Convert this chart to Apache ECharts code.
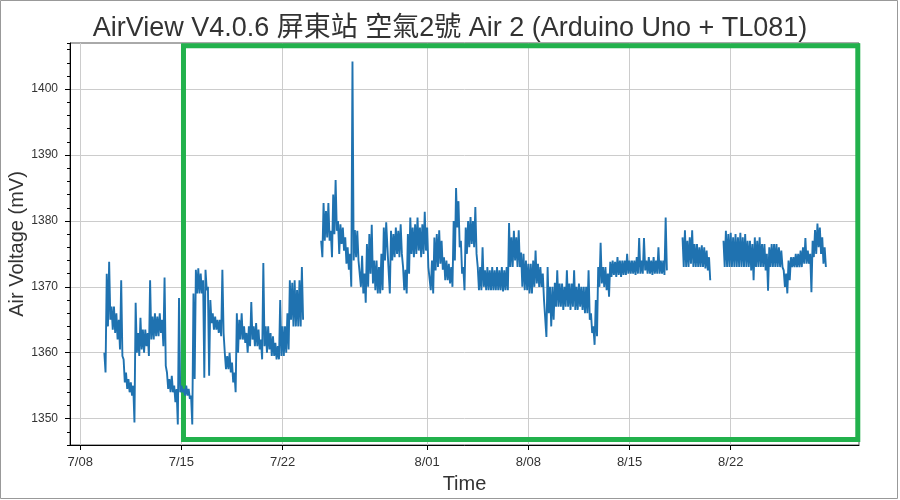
<!DOCTYPE html>
<html><head><meta charset="utf-8">
<script src="https://cdn.jsdelivr.net/npm/echarts@6/dist/echarts.min.js"></script>
<style>html,body{margin:0;padding:0;background:#fff}#c{width:900px;height:500px}</style>
</head><body><div id="c"></div>
<script>
const titleText = 'AirView V4.0.6 屏東站 空氣2號 Air 2 (Arduino Uno + TL081)';
const xAxisName = 'Time';
const yAxisName = 'Air Voltage (mV)';
// samples every 4 h starting at startTime; each sample is read as the band top (hi) and band bottom (lo)
const startTime = '2019-07-09T16:00:00';
const stepHours = 4;
const bandHigh = [
 1360, 1372, 1373.8, 1367, 1367, 1366, 1365, 1371, 1359, 1357,
 1356, 1355.5, 1355, 1367.6, 1363, 1365.3, 1363.5, 1363.5, 1363, 1371,
 1365.5, 1366, 1365.5, 1366, 1365, 1371.4, 1357, 1356, 1356.5, 1355,
 1354.5, 1368.3, 1355, 1354.5, 1355, 1354.5, 1353.5, 1369, 1372.6, 1372.8,
 1372, 1371, 1372.6, 1370, 1368, 1366, 1365.5, 1365, 1365, 1372.6,
 1360, 1359.5, 1360, 1358.5, 1357, 1366, 1365, 1366, 1364, 1363,
 1364, 1367.7, 1364, 1364.5, 1363.5, 1362, 1373.6, 1364, 1364, 1363,
 1362.5, 1361.5, 1361, 1368, 1364, 1364, 1366, 1371, 1370.6, 1371,
 1369.5, 1371, 1373, null, null, null, null, null, null, null,
 1377, 1382.7, 1381.5, 1382.7, 1378.5, 1384, 1386.2, 1380, 1379.5, 1379,
 1377.5, 1376, 1375, 1404.2, 1378.6, 1378.5, 1374, 1374.7, 1372, 1376.5,
 1378, 1379.4, 1374, 1374, 1373, 1375, 1379, 1379.8, 1376, 1378.5,
 1378, 1379, 1378.5, 1379.5, 1373, 1372.6, 1378, 1380.5, 1379, 1379.5,
 1380.5, 1379, 1379.5, 1381.4, 1379, 1373, 1374, 1377.5, 1378, 1378.6,
 1377, 1374.5, 1374, 1373.5, 1373, 1380, 1385, 1383, 1377, 1373,
 1379, 1380, 1380.6, 1380, 1382.1, 1373, 1373, 1376, 1372.5, 1373,
 1372.5, 1373, 1372.5, 1373, 1372.5, 1373, 1372.5, 1373, 1379.7, 1377.5,
 1378.5, 1377.5, 1378.6, 1375.2, 1375, 1374, 1373.5, 1373.5, 1374, 1375.5,
 1373.5, 1373, 1372, 1368, 1373, 1370, 1370, 1370.6, 1372.5, 1370.5,
 1370.5, 1370, 1372.5, 1370.5, 1370.5, 1372.5, 1370, 1370.5, 1370, 1370,
 1370, 1372.5, 1366, 1364, 1368, 1373, 1376.7, 1373, 1373, 1372,
 1373.8, 1374, 1373.8, 1374.5, 1374, 1374, 1374, 1375, 1374, 1374,
 1374, 1374.5, 1377.4, 1374, 1377.4, 1374, 1374.5, 1374, 1374.5, 1374,
 1376, 1374, 1374, 1380.5, null, null, null, null, null, null,
 1377.5, 1378.6, 1377, 1377.5, 1378.6, 1376.5, 1376.5, 1376, 1376.3, 1376,
 1375.5, 1374.5, null, null, null, null, null, 1377, 1378.5, 1378,
 1378.2, 1377.5, 1378, 1377.5, 1378.2, 1377.5, 1378, 1377, 1377, 1376.5,
 1377.5, 1377, 1377.5, 1376.5, 1376.5, 1375, 1376, 1376.5, 1376.5, 1376.5,
 1376, 1375.5, 1372.5, 1372, 1374, 1374.5, 1374.5, 1375, 1375, 1375.5,
 1376, 1377.4, 1375.5, 1375, 1377, 1378.6, 1379.6, 1379, 1377.5, 1376
];
const bandLow = [
 1357, 1364, 1365, 1363.5, 1363, 1362, 1360.5, 1359.5, 1355.5, 1354.5,
 1354, 1353.5, 1349.4, 1360, 1359.5, 1360.5, 1360, 1361, 1359.5, 1362,
 1362, 1362.5, 1362.5, 1363, 1361, 1358, 1354.5, 1354, 1354, 1352.5,
 1349.1, 1354, 1354, 1353.5, 1353.5, 1353, 1349.1, 1356, 1369, 1369,
 1369, 1356.2, 1369.5, 1356.5, 1364.5, 1363.5, 1363.5, 1363, 1362.5, 1363,
 1357.5, 1357.5, 1357, 1355.5, 1354, 1360, 1362, 1362, 1361.5, 1360,
 1361, 1362, 1361, 1361, 1360.5, 1359, 1361, 1360, 1360.5, 1359.5,
 1359.5, 1359, 1359, 1359.5, 1359.5, 1360, 1360.5, 1365, 1364, 1364,
 1364, 1364, 1365, null, null, null, null, null, null, null,
 1374.5, 1377, 1377.5, 1377, 1374.5, 1378, 1378.5, 1375, 1376.5, 1375.5,
 1373.5, 1372.6, 1370, 1374, 1374.5, 1374, 1370, 1369, 1367.6, 1370,
 1372, 1370.5, 1369.5, 1369, 1369, 1369.5, 1374, 1376, 1369, 1374,
 1374.5, 1375, 1374.5, 1375, 1369.5, 1369, 1372, 1375, 1374.5, 1375,
 1375.5, 1374.5, 1375, 1375.5, 1373, 1369.5, 1369, 1372.5, 1373, 1373.5,
 1372.6, 1371, 1371, 1370.5, 1370, 1374, 1379, 1376, 1372, 1369.5,
 1375, 1376, 1376.5, 1376, 1375, 1369.5, 1369.5, 1370, 1369.5, 1369.5,
 1369.5, 1369.5, 1369.5, 1369.5, 1369.5, 1369.3, 1369.5, 1369.5, 1373, 1373,
 1374, 1373, 1373, 1370, 1369.5, 1369.5, 1369, 1369, 1370, 1370.5,
 1370, 1370, 1368, 1362.4, 1366, 1364, 1365, 1367, 1367, 1367,
 1366.5, 1367, 1367, 1366.5, 1367, 1366.5, 1366.5, 1367, 1366.5, 1366,
 1366, 1365, 1363, 1361.2, 1362.5, 1370, 1370.5, 1370, 1369.5, 1368.5,
 1371.5, 1371.8, 1371.5, 1371.8, 1371.5, 1371.8, 1371.8, 1372, 1372, 1372,
 1371.8, 1372, 1372, 1372, 1372.5, 1372, 1372, 1371.8, 1372, 1372,
 1372, 1372, 1371.8, 1372.5, null, null, null, null, null, null,
 1373, 1373, 1373, 1373.5, 1373, 1373, 1373, 1373, 1373, 1372.8,
 1372.5, 1371, null, null, null, null, null, 1373, 1373, 1373,
 1373, 1373, 1373, 1373, 1373, 1373, 1373, 1373, 1372.5, 1371,
 1373, 1373, 1373, 1373, 1372.5, 1369.4, 1373, 1373, 1373, 1373,
 1373, 1373, 1370, 1369, 1371, 1373, 1373, 1373, 1373, 1373,
 1373.5, 1373.5, 1373.5, 1369.2, 1374.5, 1375, 1376, 1375, 1373.5, 1373
];
const xTickDates = ['2019-07-08T00:00:00','2019-07-15T00:00:00','2019-07-22T00:00:00','2019-08-01T00:00:00','2019-08-08T00:00:00','2019-08-15T00:00:00','2019-08-22T00:00:00'];
const yTicks = [1350, 1360, 1370, 1380, 1390, 1400];
const xRange = ['2019-07-07T07:00:00', '2019-08-30T21:00:00'];
const yRange = [1346, 1407];
const highlightBox = [['2019-07-15T03:25:00', 1346.85], ['2019-08-30T19:00:00', 1406.6]];

const toMs = s => new Date(s).getTime();
const t0 = toMs(startTime);
const stepMs = stepHours * 3600000;
const seriesData = [];
bandHigh.forEach((h, i) => {
  const t = t0 + i * stepMs;
  const l = bandLow[i];
  seriesData.push([t, h === null ? '-' : h]);
  seriesData.push([t + stepMs / 2, l === null ? '-' : l]);
});
const fmtDate = v => { const d = new Date(v); return (d.getMonth() + 1) + '/' + String(d.getDate()).padStart(2, '0'); };
const FONT = '"Liberation Sans", Arial, "Noto Sans CJK TC", sans-serif';

const chart = echarts.init(document.getElementById('c'), null, {renderer: 'canvas'});
chart.setOption({
  animation: false,
  backgroundColor: '#fff',
  textStyle: {fontFamily: FONT},
  title: {text: titleText, left: 'center', top: 10,
    textStyle: {fontFamily: FONT, fontSize: 27, fontWeight: 'normal', color: '#333'}},
  grid: {left: 70, top: 43, width: 789, height: 402, show: true, borderColor: '#555', borderWidth: 1,
    containLabel: false, outerBoundsMode: 'none'},
  graphic: [{type: 'rect', silent: true, shape: {x: 0.5, y: 0.5, width: 897, height: 498},
    style: {fill: 'none', stroke: '#999', lineWidth: 1}}],
  xAxis: {type: 'value', min: toMs(xRange[0]), max: toMs(xRange[1]),
    name: xAxisName, nameLocation: 'middle', nameGap: 29, nameMoveOverlap: false,
    nameTextStyle: {fontFamily: FONT, fontSize: 20, color: '#333'},
    axisLine: {show: true, onZero: false, lineStyle: {color: '#000', width: 1}},
    axisTick: {show: true, length: 5, customValues: xTickDates.map(toMs), lineStyle: {color: '#000'}},
    axisLabel: {customValues: xTickDates.map(toMs), formatter: fmtDate, fontSize: 13, color: '#333', margin: 11, fontFamily: FONT},
    splitLine: {show: true, lineStyle: {color: '#cccccc', width: 1}}},
  yAxis: [{type: 'value', min: yRange[0], max: yRange[1],
    name: yAxisName, nameLocation: 'middle', nameGap: 43, nameRotate: 90, nameMoveOverlap: false,
    nameTextStyle: {fontFamily: FONT, fontSize: 20, color: '#333'},
    axisLine: {show: true, onZero: false, lineStyle: {color: '#000', width: 1}},
    axisTick: {show: true, length: 5, customValues: yTicks, lineStyle: {color: '#000'}},
    axisLabel: {customValues: yTicks, formatter: v => String(v), fontSize: 12, color: '#333', margin: 12, fontFamily: FONT},
    splitLine: {show: true, lineStyle: {color: '#cccccc', width: 1}}},
   {type: 'value', min: yRange[0], max: yRange[1], interval: 2, position: 'left',
    axisLine: {show: false, onZero: false}, axisLabel: {show: false}, splitLine: {show: false},
    axisTick: {show: true, length: 3, lineStyle: {color: '#000'}}}],
  series: [{type: 'line', data: seriesData, showSymbol: false, symbol: 'none', clip: false,
    connectNulls: false, lineStyle: {width: 1.9, color: '#1f72b0'},
    markArea: {silent: true, itemStyle: {color: 'rgba(0,0,0,0)', borderColor: '#22b14c', borderWidth: 5},
      data: [[{coord: [toMs(highlightBox[0][0]), highlightBox[0][1]]}, {coord: [toMs(highlightBox[1][0]), highlightBox[1][1]]}]]}}]
});
</script></body></html>
